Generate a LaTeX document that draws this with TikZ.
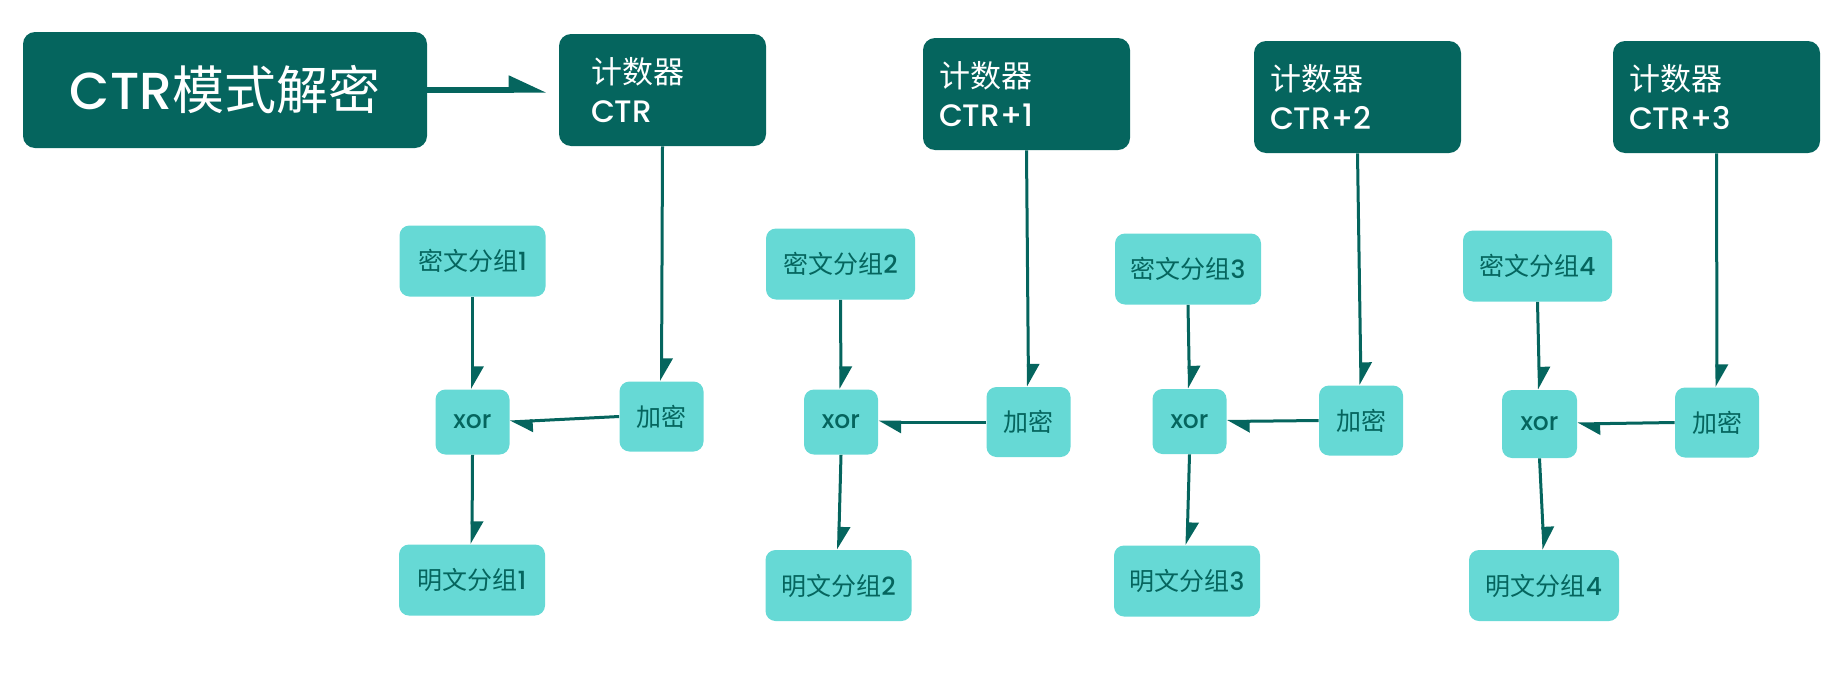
\documentclass[tikz,border=0pt]{standalone}
\usepackage{fontspec}
\setmainfont{Poppins Medium}
\newfontfamily\cjk{Noto Sans CJK SC}
\usetikzlibrary{arrows.meta}
\definecolor{dk}{HTML}{05655E}
\definecolor{lt}{HTML}{66D9D5}
\begin{document}
\begin{tikzpicture}[x=0.5pt,y=-0.5pt,
  bigbox/.style={fill=dk, rounded corners=6pt, text=white, inner sep=0pt,
    minimum width=202pt, minimum height=58pt, font=\fontsize{26}{30}\selectfont},
  cntbox/.style={fill=dk, rounded corners=6pt, text=white, inner ysep=0pt, inner xsep=8pt,
    text width=87.5pt, align=left, minimum height=56pt, font=\fontsize{15.5}{19.5}\selectfont},
  smbox/.style={fill=lt, rounded corners=5pt, text=dk, inner sep=0pt,
    font=\fontsize{12.5}{14}\selectfont},
  kbox/.style={smbox, minimum width=73pt, minimum height=35.5pt},
  xbox/.style={smbox, minimum width=37pt, minimum height=32.5pt},
  ebox/.style={smbox, minimum width=42pt, minimum height=35pt},
  arr/.style={draw=dk, line width=1.5pt, -{Triangle[harpoon, length=10pt, width=11pt]}},
  tarr/.style={draw=dk, line width=2.6pt, -{Triangle[harpoon, length=16pt, width=14pt]}}
]
\useasboundingbox (0,0) rectangle (1832,675);

\node[bigbox] (title) at (225,90) {CTR{\cjk 模式解密}};

\node[cntbox, inner xsep=16pt, text width=71.5pt] (c1) at (662.5,90) {{\cjk 计数器}\\CTR};
\node[cntbox] (c2) at (1026.5,94) {{\cjk 计数器}\\CTR+1};
\node[cntbox] (c3) at (1357.5,97) {{\cjk 计数器}\\CTR+2};
\node[cntbox] (c4) at (1716.5,97) {{\cjk 计数器}\\CTR+3};

\node[kbox] (k1) at (472.5,261) {{\cjk 密文分组}1};
\node[xbox] (x1) at (472.5,422) {xor};
\node[ebox] (e1) at (661.5,416.5) {\cjk 加密};
\node[kbox] (m1) at (472,580) {{\cjk 明文分组}1};

\node[kbox, minimum width=74.5pt] (k2) at (840.5,264) {{\cjk 密文分组}2};
\node[xbox] (x2) at (841,422) {xor};
\node[ebox] (e2) at (1028.5,422) {\cjk 加密};
\node[kbox] (m2) at (838.5,585.5) {{\cjk 明文分组}2};

\node[kbox] (k3) at (1188,269) {{\cjk 密文分组}3};
\node[xbox] (x3) at (1189.5,421.5) {xor};
\node[ebox] (e3) at (1361,420.5) {\cjk 加密};
\node[kbox] (m3) at (1187,581) {{\cjk 明文分组}3};

\node[kbox, minimum width=74.5pt] (k4) at (1537.5,266) {{\cjk 密文分组}4};
\node[xbox, minimum width=37.5pt, minimum height=34pt] (x4) at (1539.5,424) {xor};
\node[ebox] (e4) at (1717,422.5) {\cjk 加密};
\node[kbox, minimum width=75pt] (m4) at (1544,585.5) {{\cjk 明文分组}4};

\draw[tarr, shorten >=6pt] (title.east) -- (title.east -| c1.west);

\foreach \i in {1,2,3,4}{
  \draw[arr] (c\i.south) -- (e\i.north);
  \draw[arr] (k\i.south) -- (x\i.north);
  \draw[arr] (x\i.south) -- (m\i.north);
  \draw[arr] (e\i.west) -- (x\i.east);
}
\end{tikzpicture}
\end{document}
